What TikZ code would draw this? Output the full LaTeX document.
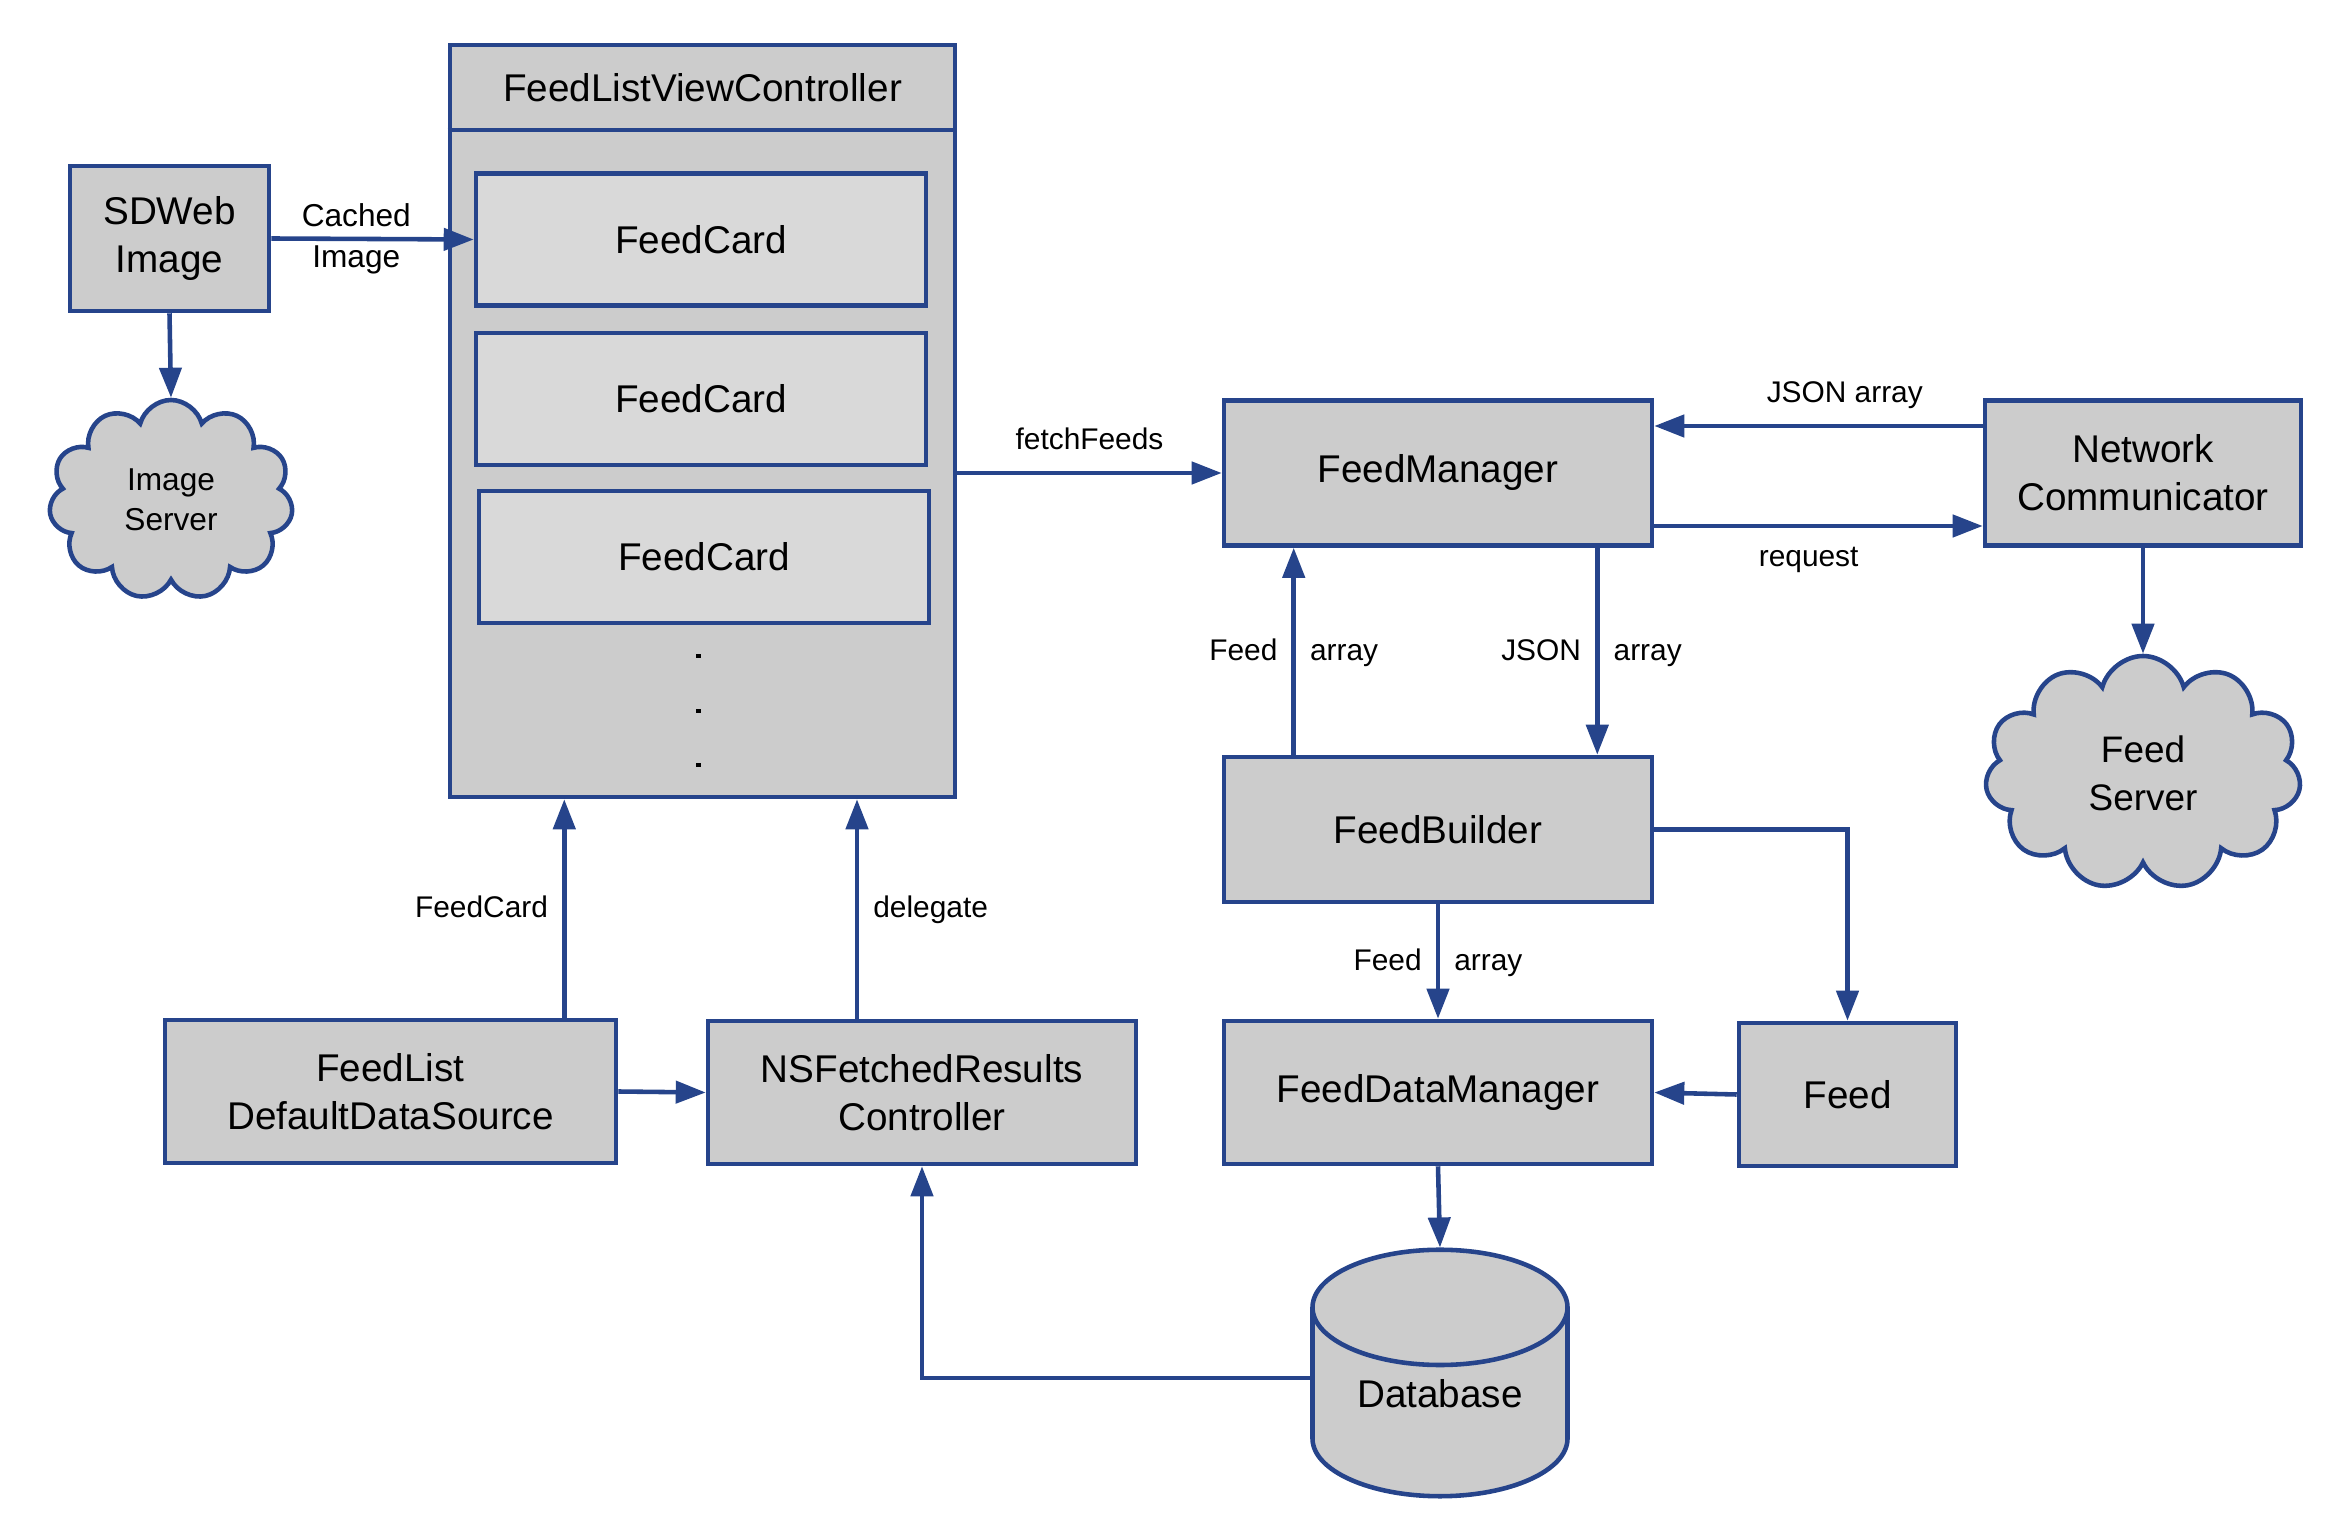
\documentclass[tikz,border=0pt]{standalone}
\usepackage{fontspec}
\setmainfont{Liberation Sans}
\usepackage{tikz}
\usetikzlibrary{arrows.meta,calc,shapes.geometric,shapes.symbols}
\definecolor{navy}{RGB}{38,68,139}
\definecolor{boxgray}{RGB}{204,204,204}
\definecolor{cardgray}{RGB}{217,217,217}

\begin{document}
\begin{tikzpicture}[
  box/.style={draw=navy, line width=1.3pt, fill=boxgray, align=center, inner sep=0pt,
    font=\fontsize{11}{13.6}\selectfont},
  card/.style={box, fill=cardgray, minimum width=4.5cm, minimum height=1.32cm},
  cloudbox/.style={cloud, cloud puffs=11, cloud ignores aspect, draw=navy, line width=1.3pt,
    fill=boxgray, align=center},
  dbbox/.style={cylinder, shape border rotate=90, aspect=0.61, draw=navy, line width=1.3pt,
    fill=boxgray, font=\fontsize{11}{13.6}\selectfont, text depth=0.44cm},
  arr/.style={draw=navy, line width=1.3pt, -{Triangle[length=3mm,width=2.2mm]}},
  lbl/.style={font=\fontsize{8.5}{11}\selectfont, inner sep=4pt, text height=0.7em, text depth=0.2em}
]
\useasboundingbox (0,0) rectangle (23.38,-15.22);

\node[box, minimum width=1.99cm, minimum height=1.45cm] (sdweb) at (1.695,-2.385) {SDWeb\\Image};
\node[cloudbox, minimum width=2.44cm, minimum height=2.0cm, font=\fontsize{9}{11.3}\selectfont] (imgsrv) at (1.71,-5.0) {Image\\Server};

\node[box, minimum width=5.05cm, minimum height=7.52cm] (flvc) at (7.025,-4.21) {};
\draw[navy, line width=1.3pt] (flvc.west |- 0,-1.30) -- (flvc.east |- 0,-1.30);
\node[font=\fontsize{11}{13.6}\selectfont] (flvctitle) at (7.025,-0.88) {FeedListViewController};
\node[card] (card1) at (7.01,-2.395) {FeedCard};
\node[card] (card2) at (7.01,-3.99) {FeedCard};
\node[card] (card3) at (7.04,-5.57) {FeedCard};
\foreach \y in {6.54,7.09,7.63}
  \fill (6.96,-\y) rectangle ++(0.045,-0.045);

\node[box, minimum width=4.28cm, minimum height=1.45cm] (fm) at (14.38,-4.73) {FeedManager};
\node[box, minimum width=3.16cm, minimum height=1.45cm] (nc) at (21.43,-4.73) {Network\\Communicator};
\node[box, minimum width=4.28cm, minimum height=1.45cm] (fb) at (14.38,-8.295) {FeedBuilder};
\node[cloudbox, minimum width=3.16cm, minimum height=2.34cm, font=\fontsize{10.5}{13.6}\selectfont] (fsrv) at (21.43,-7.73) {Feed\\Server};
\node[box, minimum width=4.28cm, minimum height=1.43cm] (fdm) at (14.38,-10.925) {FeedDataManager};
\node[box, minimum width=2.17cm, minimum height=1.43cm] (feed) at (18.475,-10.945) {Feed};
\node[box, minimum width=4.28cm, minimum height=1.43cm] (nsfrc) at (9.22,-10.925) {NSFetchedResults\\Controller};
\node[box, minimum width=4.51cm, minimum height=1.43cm] (fldds) at (3.905,-10.915) {FeedList\\DefaultDataSource};
\node[dbbox, minimum width=2.55cm, minimum height=2.36cm] (db) at (14.4,-14.15) {Database};

\draw[arr] (sdweb.east) -- node[lbl, pos=0.42, align=center, font=\fontsize{9}{11.6}\selectfont, text height=, text depth=] {Cached\\Image} (card1.west);
\draw[arr] (sdweb.south) -- (imgsrv.north);
\draw[arr] (flvc.east |- fm.west) -- node[lbl, above] {fetchFeeds} (fm.west);
\draw[arr] ([yshift=4.7mm]nc.west) -- node[lbl, above, pos=0.42] {JSON array} ([yshift=4.7mm]fm.east);
\draw[arr] ([yshift=-5.3mm]fm.east) -- node[lbl, below, pos=0.47] {request} ([yshift=-5.3mm]nc.west);
\draw[arr] ([xshift=7.2mm]fb.north west) -- node[lbl, left] {Feed} node[lbl, right] {array} ([xshift=7.2mm]fm.south west);
\draw[arr] ([xshift=-5.7mm]fm.south east) -- node[lbl, left] {JSON} node[lbl, right] {array} ([xshift=-5.7mm]fb.north east);
\draw[arr] (nc.south) -- (fsrv.north);
\draw[arr] (fb.east) -| (feed.north);
\draw[arr] (fb.south) -- node[lbl, left] {Feed} node[lbl, right] {array} (fdm.north);
\draw[arr] (feed.west) -- (fdm.east);
\draw[arr] (fdm.south) -- (db.north);
\draw[arr] ([yshift=3.7mm]db.west) -| (nsfrc.south);
\draw[arr] (fldds.east) -- (nsfrc.west);
\draw[arr] ([xshift=-5.4mm]fldds.north east) -- node[lbl, left] {FeedCard} ([xshift=-5.4mm]fldds.north east |- flvc.south);
\draw[arr] ([xshift=-6.5mm]nsfrc.north) -- node[lbl, right] {delegate} ([xshift=-6.5mm]nsfrc.north |- flvc.south);
\end{tikzpicture}
\end{document}
